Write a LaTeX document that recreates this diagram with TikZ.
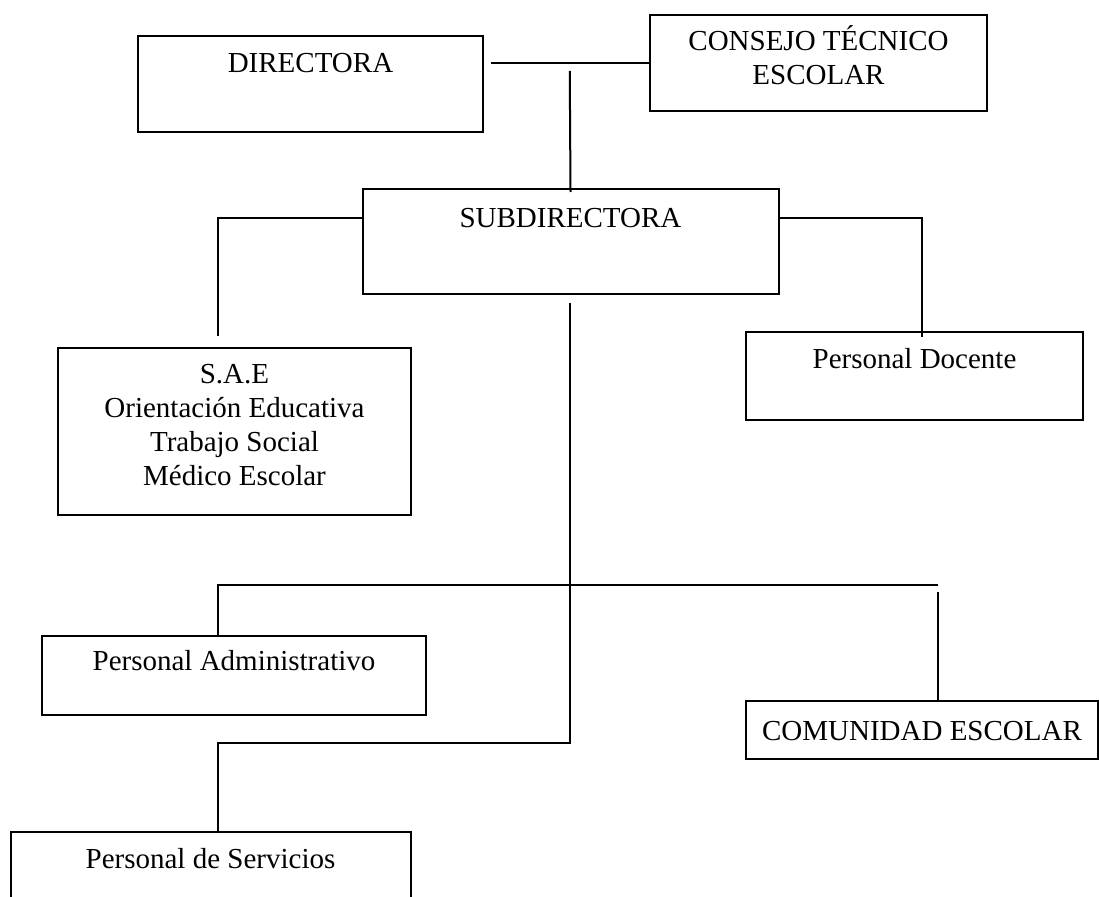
\documentclass[tikz,border=0pt]{standalone}
\usepackage{fontspec}
\setmainfont{Liberation Serif}
\usetikzlibrary{calc}
\tikzset{
  box/.style={draw=black, line width=2pt, rectangle, inner sep=0pt, anchor=north west},
  txt/.style={inner sep=0pt, anchor=base, align=center, font=\fontsize{29}{34}\selectfont},
  conn/.style={draw=black, line width=2pt}
}
\begin{document}
\begin{tikzpicture}[x=1pt, y=-1pt]
\useasboundingbox (0,0) rectangle (1099,896);
% boxes
\node[box, minimum width=345pt, minimum height=96pt] (dir) at (137,35) {};
\node[box, minimum width=337pt, minimum height=96pt] (cte) at (649,14) {};
\node[box, minimum width=416pt, minimum height=105pt] (sub) at (361.5,188) {};
\node[box, minimum width=353pt, minimum height=167pt] (sae) at (57,347) {};
\node[box, minimum width=337pt, minimum height=88pt] (doc) at (745,331) {};
\node[box, minimum width=384pt, minimum height=79pt] (adm) at (41,635) {};
\node[box, minimum width=352pt, minimum height=58pt] (com) at (745,700) {};
\node[box, minimum width=400pt, minimum height=80pt] (ser) at (9.5,831) {};
% texts (base anchor = baseline of the last line)
\node[txt] (tdir) at ($(dir.north)+(0,38)$) {DIRECTORA};
\node[txt] (tcte) at ($(cte.north)+(0,71)$) {CONSEJO TÉCNICO\\ESCOLAR};
\node[txt] (tsub) at ($(sub.north)+(0,39)$) {SUBDIRECTORA};
\node[txt] (tsae) at ($(sae.north)+(0,138)$) {S.A.E\\Orientación Educativa\\Trabajo Social\\Médico Escolar};
\node[txt] (tdoc) at ($(doc.north)+(0,37)$) {Personal Docente};
\node[txt] (tadm) at ($(adm.north)+(0,35)$) {Personal Administrativo};
\node[txt] (tcom) at ($(com.north)+(0,40)$) {COMUNIDAD ESCOLAR};
\node[txt] (tser) at ($(ser.north)+(0,37)$) {Personal de Servicios};
% connector points
\coordinate (dirgap) at ($(cte.west -| dir.east)+(7,0)$);
\coordinate (toptrunk) at (569.75,71);
\coordinate (saeend) at (217.5,336);
\coordinate (docend) at (921.7,336.7);
\coordinate (trunktop) at (569.75,302.7);
\coordinate (trunkbot) at (569.75,743.3);
\coordinate (serbend) at (217.5,743.3);
\coordinate (hleft) at (217.5,584.5);
\coordinate (hright) at (938.3,584.5);
\coordinate (comtop) at (937.7,591.7);
% connectors
\draw[conn] (dirgap) -- (cte.west);
\draw[conn] (toptrunk) -- ($(sub.north)+(0,4)$);
\draw[conn] ([yshift=24pt]sub.west) -| (saeend);
\draw[conn] ([yshift=24pt]sub.east) -| (docend);
\draw[conn] (trunktop) -- (trunkbot) -- (serbend) -- (serbend |- ser.north);
\draw[conn] (hleft |- adm.north) -- (hleft) -- (hright);
\draw[conn] (comtop) -- (comtop |- com.north);
\end{tikzpicture}
\end{document}
